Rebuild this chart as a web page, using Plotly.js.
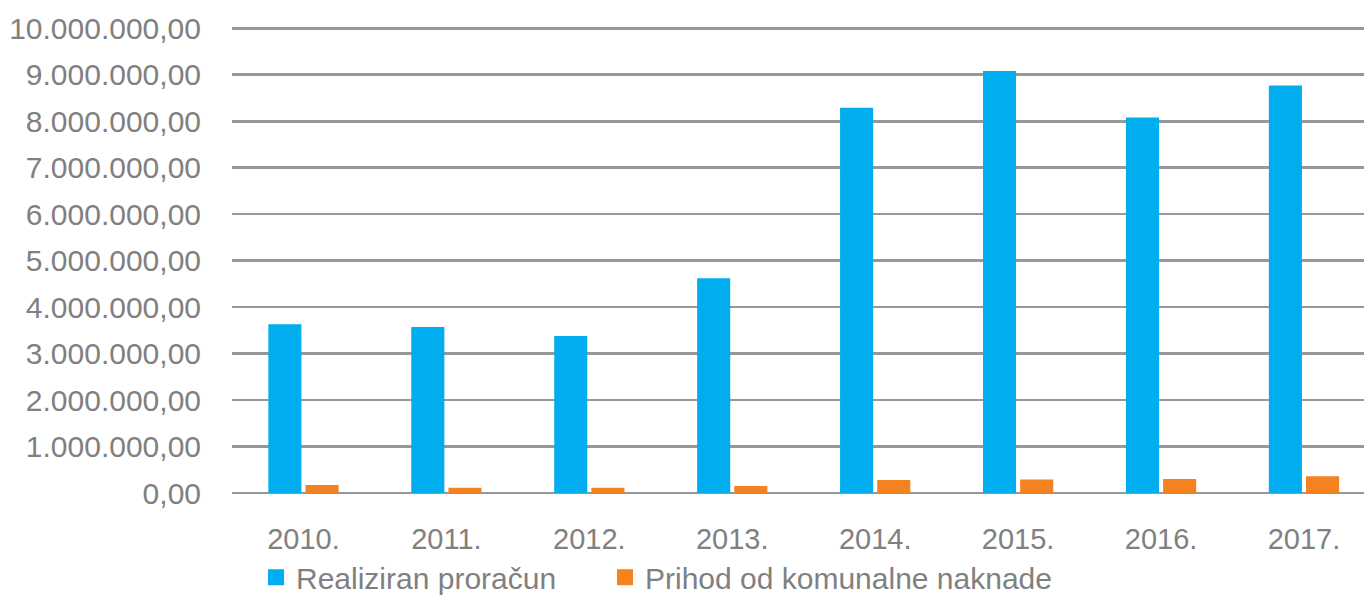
<!DOCTYPE html>
<html>
<head>
<meta charset="utf-8">
<script src="https://cdn.plot.ly/plotly-3.0.1.min.js"></script>
<style>html,body{margin:0;padding:0;background:#fff;}#chart{width:1364px;height:595px;}</style>
</head>
<body>
<div id="chart"></div>
<script>
const years = ['2010.', '2011.', '2012.', '2013.', '2014.', '2015.', '2016.', '2017.'];
const realiziranProracun = [3630000, 3570000, 3380000, 4620000, 8290000, 9080000, 8080000, 8770000];
const prihodKomunalneNaknade = [170000, 115000, 115000, 150000, 280000, 290000, 300000, 360000];
const seriesNames = ['Realiziran proračun', 'Prihod od komunalne naknade'];
const colors = ['#00ADEE', '#F58220'];

const font = 'Liberation Sans Narrow, Liberation Sans, Arial, sans-serif';
const traces = [
  {type: 'bar', x: years, y: realiziranProracun, name: seriesNames[0], marker: {color: colors[0]}, showlegend: false, hoverinfo: 'y'},
  {type: 'bar', x: years, y: prihodKomunalneNaknade, name: seriesNames[1], marker: {color: colors[1]}, showlegend: false, hoverinfo: 'y'},
  {type: 'scatter', mode: 'markers', x: [null], y: [null], name: seriesNames[0], legend: 'legend', marker: {color: colors[0], symbol: 'square', size: 20}},
  {type: 'scatter', mode: 'markers', x: [null], y: [null], name: seriesNames[1], legend: 'legend2', marker: {color: colors[1], symbol: 'square', size: 20}}
];
const legendBase = {orientation: 'h', xanchor: 'left', xref: 'container', yref: 'container', y: 0.03, yanchor: 'middle', font: {size: 30, color: '#808080'}, itemsizing: 'trace', bgcolor: 'rgba(0,0,0,0)'};
const layout = {
  width: 1364, height: 595,
  margin: {l: 232, r: 0, t: 26, b: 102, autoexpand: false},
  paper_bgcolor: '#fff', plot_bgcolor: '#fff',
  separators: ',.',
  barmode: 'group', bargap: 0.48, bargroupgap: 0.11,
  font: {family: font, color: '#808080', size: 30},
  xaxis: {type: 'category', range: [-0.5, 7.42], showgrid: false, showline: false, zeroline: false, ticks: '', ticklabelstandoff: 26, tickfont: {size: 29, color: '#808080'}, fixedrange: true},
  yaxis: {range: [0, 10050000], tickvals: [0,1e6,2e6,3e6,4e6,5e6,6e6,7e6,8e6,9e6,1e7], tickformat: ',.2f', showgrid: true, gridcolor: '#98989c', gridwidth: 2.6, zeroline: true, zerolinecolor: '#98989c', zerolinewidth: 2.6, ticks: '', ticklabelstandoff: 30, tickfont: {size: 30, color: '#808080'}, fixedrange: true},
  legend: Object.assign({}, legendBase, {x: 256 / 1364}),
  legend2: Object.assign({}, legendBase, {x: 605 / 1364}),
  showlegend: true
};
Plotly.newPlot('chart', traces, layout, {displayModeBar: false, staticPlot: true});
</script>
</body>
</html>
